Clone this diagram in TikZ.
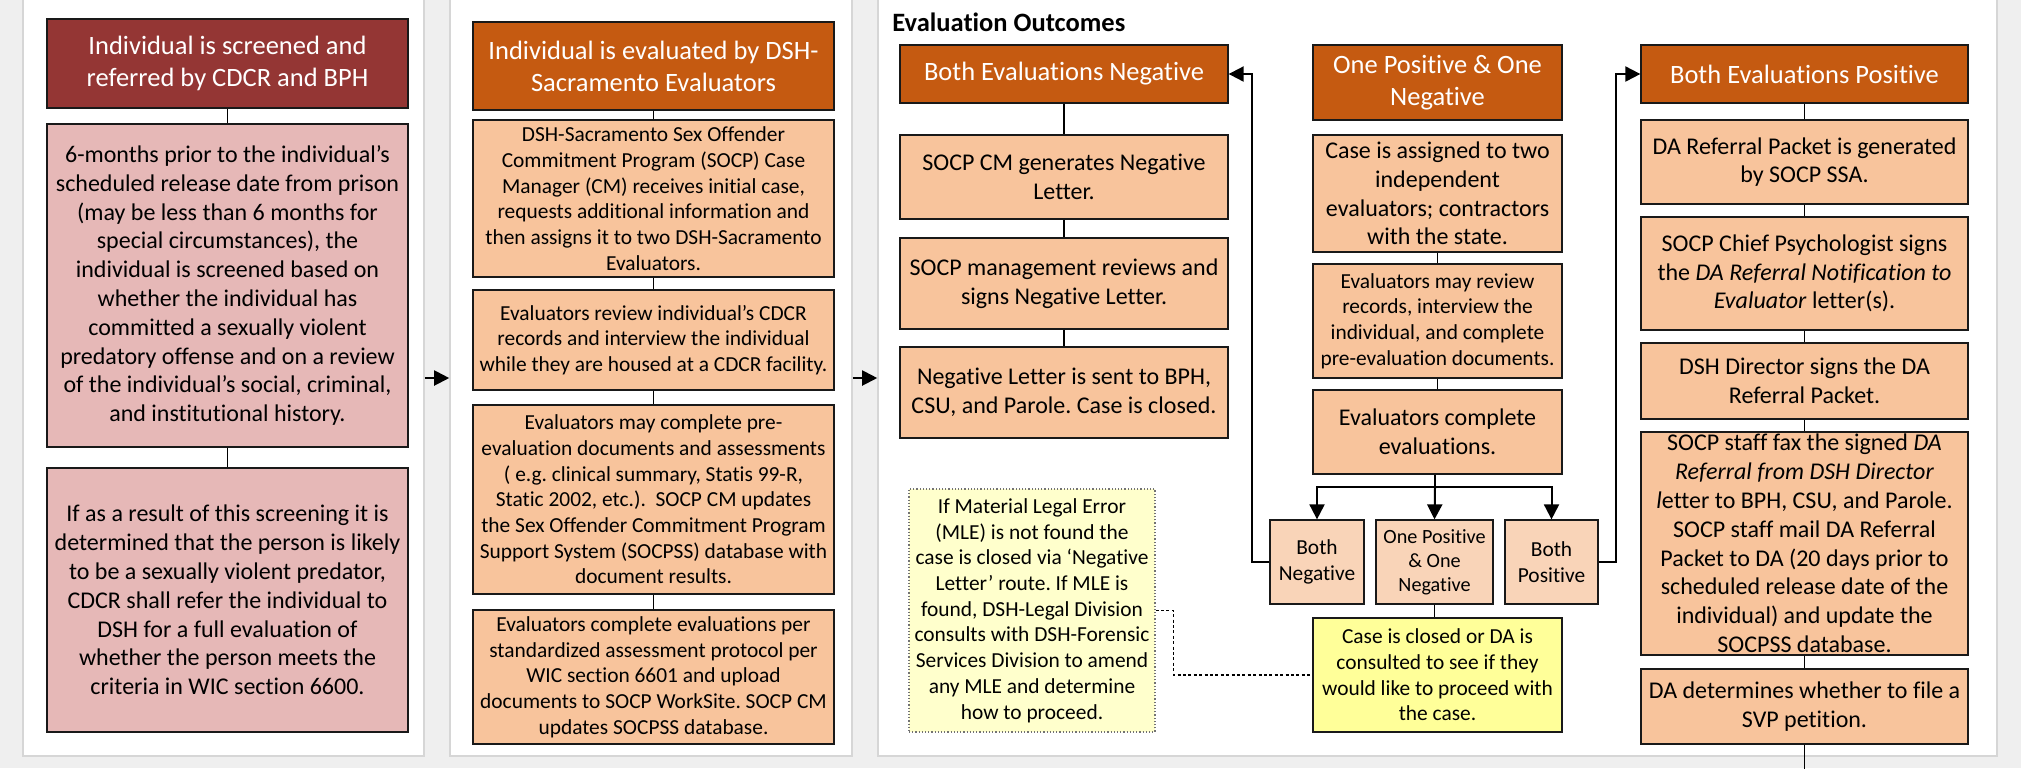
\documentclass[tikz,border=0pt]{standalone}
\usepackage{fontspec}
\setmainfont{Carlito}[Ligatures=NoCommon]
\frenchspacing
\usetikzlibrary{arrows.meta}
\definecolor{bgc}{HTML}{EFEFEF}
\definecolor{panelc}{HTML}{D6D6D6}
\definecolor{hdredc}{HTML}{943634}
\definecolor{hdorgc}{HTML}{C55A11}
\definecolor{pinkc}{HTML}{E6B8B7}
\definecolor{peachc}{HTML}{F8C49C}
\definecolor{smallc}{HTML}{F9D4B8}
\definecolor{yelc}{HTML}{FFFF99}
\definecolor{mlec}{HTML}{FFFFCC}
\newcommand\fsHead{\fontsize{13.25}{15.9}\selectfont}
\newcommand\fsXII{\fontsize{12}{14.4}\selectfont}
\newcommand\fsMid{\fontsize{10.7}{12.85}\selectfont}
\newcommand\fsSmall{\fontsize{10.1}{12.1}\selectfont}
\newcommand\bx[7]{%
  \pgfmathsetmacro\bxw{(#5-#3)*0.5}%
  \pgfmathsetmacro\bxh{(#6-#4)*0.5}%
  \node[#2, minimum width=\bxw pt, minimum height=\bxh pt] (#1) at ({(#3+#5)/2},{(#4+#6)/2}) {#7};}
\tikzset{
  bxbase/.style={draw=black!90, line width=0.65pt, inner sep=0pt, align=center, text=black},
  hdred/.style={bxbase, fill=hdredc, text=white, font=\fsHead},
  hdorg/.style={bxbase, fill=hdorgc, text=white, font=\fsHead},
  pinkb/.style={bxbase, fill=pinkc, font=\fsXII},
  peachb/.style={bxbase, fill=peachc},
  smallb/.style={bxbase, fill=smallc},
  yelb/.style={bxbase, fill=yelc, font=\fsMid},
  mleb/.style={draw=black!55, densely dotted, line width=0.6pt, fill=mlec, inner sep=0pt, align=center, font=\fsMid},
  panel/.style={draw=panelc, line width=0.8pt, fill=white, inner sep=0pt},
  conn/.style={line width=0.85pt, draw=black},
  arr/.style={line width=1pt, draw=black, -{Triangle[length=7.5pt,width=7.5pt]}},
  dotconn/.style={line width=0.8pt, draw=black, dash pattern=on 1.5pt off 1.2pt},
}
\begin{document}
\begin{tikzpicture}[x=0.5pt,y=-0.5pt]
\useasboundingbox (0,0) rectangle (2021,768);
\fill[bgc] (0,0) rectangle (2021,768);
% panels
\bx{pan1}{panel}{23}{-4}{424}{756}{}
\bx{pan2}{panel}{450}{-4}{852}{756}{}
\bx{pan3}{panel}{878}{-4}{1997}{756}{}
% panel 1
\bx{h1}{hdred}{47}{19}{408}{108}{Individual is screened and\\referred by CDCR and BPH}
\bx{b1}{pinkb}{47}{124}{408}{447}{6-months prior to the individual’s\\scheduled release date from prison\\(may be less than 6 months for\\special circumstances), the\\individual is screened based on\\whether the individual has\\committed a sexually violent\\predatory offense and on a review\\of the individual’s social, criminal,\\and institutional history.}
\bx{b2}{pinkb}{47}{468}{408}{732}{If as a result of this screening it is\\determined that the person is likely\\to be a sexually violent predator,\\CDCR shall refer the individual to\\DSH for a full evaluation of\\whether the person meets the\\criteria in WIC section 6600.}
\draw[conn] (h1.south) -- (b1.north);
\draw[conn] (b1.south) -- (b2.north);
% panel 2
\bx{h2}{hdorg}{473}{22}{834}{110}{Individual is evaluated by DSH-\\Sacramento Evaluators}
\bx{a2}{peachb,font=\fsMid}{473}{120}{834}{277}{DSH-Sacramento Sex Offender\\Commitment Program (SOCP) Case\\Manager (CM) receives initial case,\\requests additional information and\\then assigns it to two DSH-Sacramento\\Evaluators.}
\bx{b2b}{peachb,font=\fsMid}{473}{290}{834}{390}{Evaluators review individual’s CDCR\\records and interview the individual\\while they are housed at a CDCR facility.}
\bx{c2}{peachb,font=\fsMid}{473}{405}{834}{594}{Evaluators may complete pre-\\evaluation documents and assessments\\( e.g. clinical summary, Statis 99-R,\\Static 2002, etc.).\ \ SOCP CM updates\\the Sex Offender Commitment Program\\Support System (SOCPSS) database with\\document results.}
\bx{d2}{peachb,font=\fsMid}{473}{610}{834}{744}{Evaluators complete evaluations per\\standardized assessment protocol per\\WIC section 6601 and upload\\documents to SOCP WorkSite. SOCP CM\\updates SOCPSS database.}
\draw[conn] (h2.south) -- (a2.north);
\draw[conn] (a2.south) -- (b2b.north);
\draw[conn] (b2b.south) -- (c2.north);
\draw[conn] (c2.south) -- (d2.north);
% panel arrows
\draw[arr] (pan1.east |- 0,378) -- (pan2.west |- 0,378);
\draw[arr] (pan2.east |- 0,378) -- (pan3.west |- 0,378);
% panel 3
\node[anchor=west, inner sep=0pt, font=\bfseries\fsHead] (title) at (892,22) {Evaluation Outcomes};
% negative column
\bx{nh}{hdorg}{900}{45}{1228}{103}{Both Evaluations Negative}
\bx{n1}{peachb,font=\fsXII}{900}{135}{1228}{219}{SOCP CM generates Negative\\Letter.}
\bx{n2}{peachb,font=\fsXII}{900}{238}{1228}{329}{SOCP management reviews and\\signs Negative Letter.}
\bx{n3}{peachb,font=\fsXII}{900}{347}{1228}{438}{Negative Letter is sent to BPH,\\CSU, and Parole. Case is closed.}
\draw[conn] (nh.south) -- (n1.north);
\draw[conn] (n1.south) -- (n2.north);
\draw[conn] (n2.south) -- (n3.north);
\bx{mle}{mleb}{909}{489}{1155}{732}{If Material Legal Error\\(MLE) is not found the\\case is closed via ‘Negative\\Letter’ route. If MLE is\\found, DSH-Legal Division\\consults with DSH-Forensic\\Services Division to amend\\any MLE and determine\\how to proceed.}
% one positive column
\bx{oh}{hdorg}{1313}{45}{1562}{120}{One Positive \& One\\Negative}
\bx{o1}{peachb,font=\fsXII}{1313}{135}{1562}{252}{Case is assigned to two\\independent\\evaluators; contractors\\with the state.}
\bx{o2}{peachb,font=\fsMid}{1313}{264}{1562}{378}{Evaluators may review\\records, interview the\\individual, and complete\\pre-evaluation documents.}
\bx{o3}{peachb,font=\fsXII}{1313}{390}{1562}{474}{Evaluators complete\\evaluations.}
\draw[conn] (o1.south) -- (o2.north);
\draw[conn] (o2.south) -- (o3.north);
\bx{sn}{smallb,font=\fsMid}{1270}{520}{1364}{604}{Both\\Negative}
\bx{sm}{smallb,font=\fsSmall}{1376}{520}{1493}{604}{One Positive\\\& One\\Negative}
\bx{sp}{smallb,font=\fsMid}{1505}{520}{1598}{604}{Both\\Positive}
\bx{yb}{yelb}{1313}{618}{1562}{732}{Case is closed or DA is\\consulted to see if they\\would like to proceed with\\the case.}
\coordinate (split) at (1435,487);
\draw[conn] (o3.south -| split) -- (split);
\draw[arr] (split) -| (sn.north);
\draw[arr] (split) -- (sm.north);
\draw[arr] (split) -| (sp.north);
\draw[conn] (sm.south) -- (sm.south |- yb.north);
\coordinate (nbend) at (1252,74);
\draw[arr] (sn.west) -| (nbend) -- (nh.east);
\draw[dotconn] (mle.east) -- ++(18,0) |- (yb.west);
% positive column
\bx{ph}{hdorg}{1641}{45}{1968}{103}{Both Evaluations Positive}
\bx{p1}{peachb,font=\fsXII}{1641}{120}{1968}{204}{DA Referral Packet is generated\\by SOCP SSA.}
\bx{p2}{peachb,font=\fsXII}{1641}{217}{1968}{330}{SOCP Chief Psychologist signs\\the \textit{DA Referral Notification to}\\\textit{Evaluator} letter(s).}
\bx{p3}{peachb,font=\fsXII}{1641}{343}{1968}{419}{DSH Director signs the DA\\Referral Packet.}
\bx{p4}{peachb,font=\fsXII}{1641}{432}{1968}{655}{SOCP staff fax the signed \textit{DA}\\\textit{Referral from DSH Director}\\\textit{l}etter to BPH, CSU, and Parole.\\SOCP staff mail DA Referral\\Packet to DA (20 days prior to\\scheduled release date of the\\individual) and update the\\SOCPSS database.}
\bx{p5}{peachb,font=\fsXII}{1641}{669}{1968}{744}{DA determines whether to file a\\SVP petition.}
\draw[conn] (ph.south) -- (p1.north);
\draw[conn] (p1.south) -- (p2.north);
\draw[conn] (p2.south) -- (p3.north);
\draw[conn] (p3.south) -- (p4.north);
\draw[conn] (p4.south) -- (p5.north);
\coordinate (pend) at (p5.south |- 0,772);
\draw[conn] (p5.south) -- (pend);
\coordinate (pbend) at (1616,74);
\draw[arr] (sp.east) -| (pbend) -- (ph.west);
\end{tikzpicture}
\end{document}
